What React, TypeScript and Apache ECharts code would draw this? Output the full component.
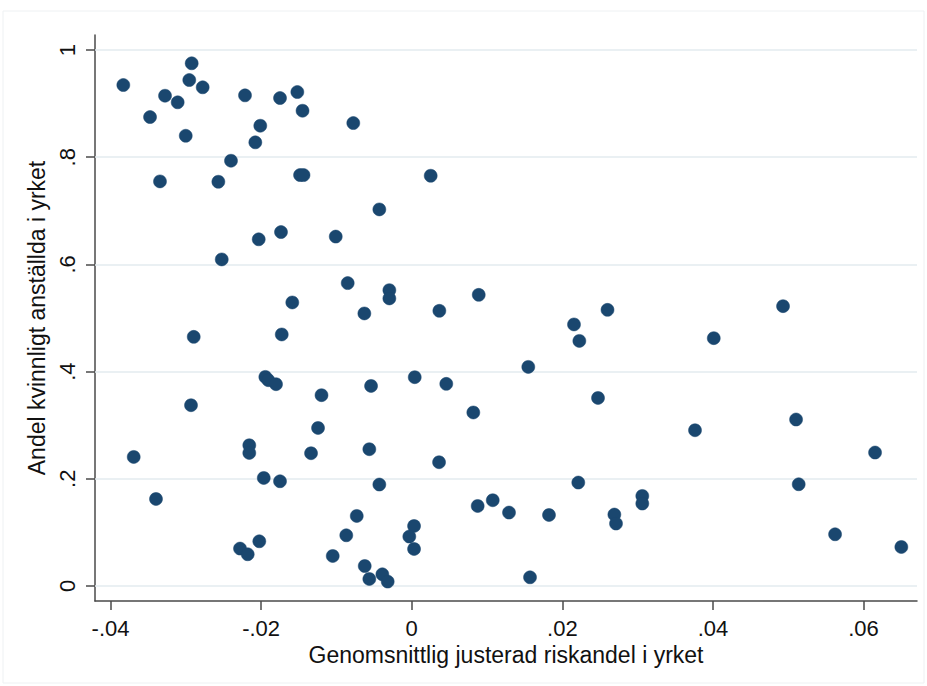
import React, { useEffect, useRef } from "react";
import * as echarts from "echarts";

// Average adjusted risk share in occupation (x) vs share of women employed (y)
const xValues: number[] = [
  -0.0383, -0.02922, -0.02954, -0.02776, -0.03276, -0.03108, -0.03475, -0.03001,
  -0.02214, -0.01749, -0.01519, -0.0145, -0.02011, -0.02077, -0.00776, -0.024,
  -0.03343, -0.02568, -0.01483, -0.01437, 0.00252, -0.0043, -0.01736, -0.02032,
  -0.01009, -0.02523, -0.0085, -0.00297, -0.00297, -0.01586, -0.00629, 0.00367,
  0.0089, -0.02895, -0.01726, 0.02155, 0.02226, 0.026, 0.04931, 0.04011,
  0.01548, 0.0004, -0.01944, -0.01904, -0.01802, -0.0054, 0.00459, -0.01198,
  0.02474, -0.02931, 0.00818, 0.05104, 0.03762, -0.01244, -0.02157, -0.02157,
  -0.03692, -0.01337, -0.00563, 0.00363, 0.06153, -0.01965, -0.01749, -0.0043,
  0.02212, 0.05139, -0.03396, 0.01076, 0.00876, 0.01292, 0.01823, 0.03062,
  0.03062, 0.02691, 0.02713, -0.0073, 0.00031, -0.00032, 0.00031, -0.00869,
  0.05622, 0.06502, -0.0228, -0.02178, -0.02024, -0.01049, -0.00624, -0.00563,
  -0.0039, -0.00319, 0.01571,
];
const yValues: number[] = [
  0.9347, 0.9752, 0.944, 0.9304, 0.9147, 0.9024, 0.8749, 0.84,
  0.9154, 0.9104, 0.9216, 0.8867, 0.8587, 0.8277, 0.8637, 0.7934,
  0.7549, 0.7542, 0.7667, 0.7667, 0.7654, 0.7026, 0.6603, 0.6468,
  0.6519, 0.6093, 0.5651, 0.552, 0.5365, 0.529, 0.5085, 0.5134,
  0.5432, 0.4648, 0.4693, 0.488, 0.4573, 0.5152, 0.5221, 0.4624,
  0.4088, 0.3896, 0.3901, 0.384, 0.3765, 0.3733, 0.3771, 0.356,
  0.3509, 0.3373, 0.3237, 0.3106, 0.2906, 0.2949, 0.2626, 0.2483,
  0.2408, 0.2477, 0.2552, 0.2309, 0.249, 0.2016, 0.1954, 0.1893,
  0.193, 0.1898, 0.1624, 0.16, 0.1493, 0.137, 0.1325, 0.168,
  0.1538, 0.1333, 0.1165, 0.1307, 0.112, 0.0922, 0.0691, 0.0946,
  0.0965, 0.0728, 0.0698, 0.0592, 0.0834, 0.056, 0.0373, 0.0131,
  0.0218, 0.0082, 0.0162,
];

const xTickValues: number[] = [-0.04, -0.02, 0, 0.02, 0.04, 0.06];
const xTickLabels: string[] = ["-.04", "-.02", "0", ".02", ".04", ".06"];
const yTickValues: number[] = [0, 0.2, 0.4, 0.6, 0.8, 1];
const yTickLabels: string[] = ["0", ".2", ".4", ".6", ".8", "1"];

const xTitle = "Genomsnittlig justerad riskandel i yrket";
const yTitle = "Andel kvinnligt anställda i yrket";

const FONT = "'Liberation Sans', Arial, sans-serif";

function lookup(values: number[], labels: string[], v: number): string {
  for (let i = 0; i < values.length; i++) {
    if (Math.abs(values[i] - v) < 1e-9) return labels[i];
  }
  return "";
}

export default function App() {
  const ref = useRef<HTMLDivElement>(null);

  useEffect(() => {
    if (!ref.current) return;
    const chart = echarts.init(ref.current, null, { renderer: "svg" });
    const points = xValues.map((x, i) => [x, yValues[i]]);

    const axisLine = { show: true, onZero: false, lineStyle: { color: "#4a4a4a", width: 1.5 } };
    const axisTick = { show: true, length: 9, lineStyle: { color: "#4a4a4a", width: 1.5 } };

    chart.setOption({
      animation: false,
      backgroundColor: "#ffffff",
      textStyle: { fontFamily: FONT },
      graphic: [
        {
          type: "rect",
          shape: { x: 3, y: 11, width: 921, height: 672 },
          style: { fill: "none", stroke: "#eef1f3", lineWidth: 1 },
          silent: true,
          z: -10,
        },
      ],
      grid: { left: 95, right: 10, top: 35, bottom: 85, containLabel: false },
      xAxis: {
        type: "value",
        min: -0.04206,
        max: 0.0671,
        name: xTitle,
        nameLocation: "middle",
        nameGap: 39,
        nameTextStyle: { fontSize: 23, color: "#111", fontFamily: FONT },
        axisLine,
        axisTick: { ...axisTick, customValues: xTickValues },
        axisLabel: {
          customValues: xTickValues,
          margin: 16,
          fontSize: 22,
          color: "#111",
          fontFamily: FONT,
          formatter: (v: number) => lookup(xTickValues, xTickLabels, v),
        },
        splitLine: { show: false },
      },
      yAxis: {
        type: "value",
        min: -0.028,
        max: 1.028,
        name: yTitle,
        nameLocation: "middle",
        nameGap: 36,
        nameRotate: 90,
        nameTextStyle: { fontSize: 23, color: "#111", fontFamily: FONT },
        axisLine,
        axisTick: { ...axisTick, customValues: yTickValues },
        axisLabel: {
          customValues: yTickValues,
          rotate: 90,
          margin: 17,
          fontSize: 22,
          color: "#111",
          fontFamily: FONT,
          formatter: (v: number) => lookup(yTickValues, yTickLabels, v),
        },
        splitLine: { show: false },
      },
      series: [
        {
          type: "scatter",
          name: "grid",
          data: [],
          z: 1,
          silent: true,
          markLine: {
            silent: true,
            symbol: "none",
            label: { show: false },
            lineStyle: { color: "#e3ebef", width: 1.6, type: "solid" },
            data: yTickValues.map((v) => ({ yAxis: v })),
          },
        },
        {
          type: "scatter",
          name: "occupations",
          data: points,
          z: 10,
          symbol: "circle",
          symbolSize: 13,
          itemStyle: { color: "#1a476f", borderColor: "#1a476f", borderWidth: 0.5, opacity: 1 },
        },
      ],
    });

    return () => {
      chart.dispose();
    };
  }, []);

  return (
    <div
      ref={ref}
      style={{ position: "fixed", left: 0, top: 0, width: 927, height: 686 }}
    />
  );
}
